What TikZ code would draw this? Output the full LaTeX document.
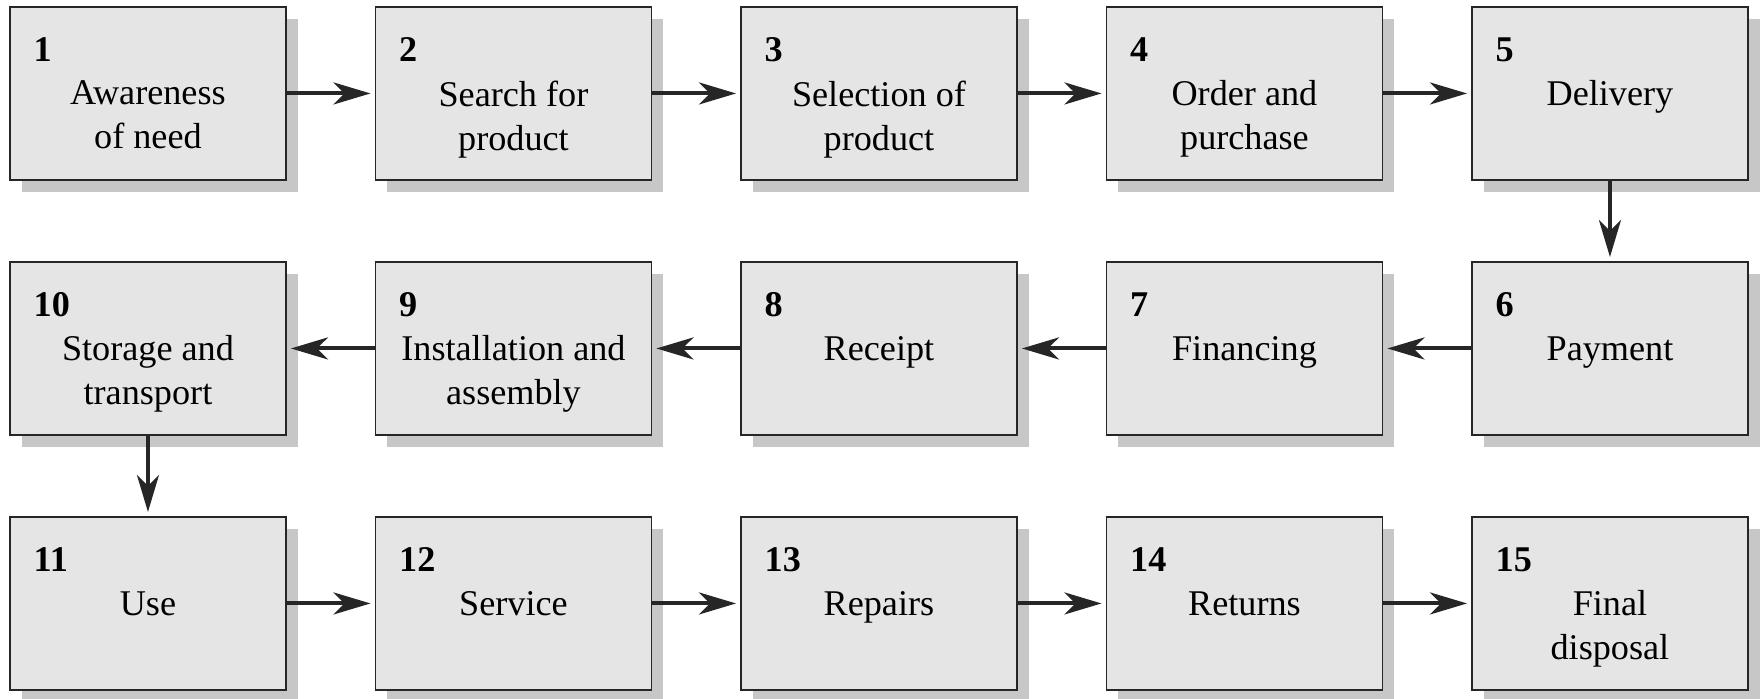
\documentclass[tikz,border=0pt]{standalone}
\usepackage{fontspec}
\setmainfont{Liberation Serif}
\usetikzlibrary{arrows.meta,calc,shadows}

\begin{document}
\fontsize{10.3}{12.5}\selectfont
\begin{tikzpicture}[x=0.1mm, y=-0.1mm,
    stage/.style={rectangle, draw=black!85, line width=0.55pt, fill=black!10, minimum width=27.6mm, minimum height=17.3mm, inner sep=0pt, anchor=north west,
        general shadow={shadow xshift=1.2mm, shadow yshift=-1.2mm, fill=black!22}},
    num/.style={anchor=base west, inner sep=0pt, font=\bfseries},
    txt/.style={anchor=north, inner sep=0pt, align=center, execute at begin node={\vphantom{d}}},
    flow/.style={line width=1.15pt, black!85, -{Stealth[length=3.7mm, width=2.2mm, inset=1.1mm]}, shorten >=0.4mm}]

    \useasboundingbox (0,0) rectangle (1764,699);

    % first row
    \node[stage] (b1) at (9,6) {}; \node[num] (n1) at ($(b1.north west)+(24,56)$) {1}; \node[txt] (t1) at ($(b1.north)+(0,74)$) {Awareness\\of need};
    \node[stage] (b2) at (374.5,6) {}; \node[num] (n2) at ($(b2.north west)+(24,56)$) {2}; \node[txt] (t2) at ($(b2.north)+(0,74)$) {Search for\\product};
    \node[stage] (b3) at (740,6) {}; \node[num] (n3) at ($(b3.north west)+(24,56)$) {3}; \node[txt] (t3) at ($(b3.north)+(0,74)$) {Selection of\\product};
    \node[stage] (b4) at (1105.5,6) {}; \node[num] (n4) at ($(b4.north west)+(24,56)$) {4}; \node[txt] (t4) at ($(b4.north)+(0,74)$) {Order and\\purchase};
    \node[stage] (b5) at (1471,6) {}; \node[num] (n5) at ($(b5.north west)+(24,56)$) {5}; \node[txt] (t5) at ($(b5.north)+(0,74)$) {Delivery};

    % second row, right to left
    \node[stage] (b6) at (1471,261) {}; \node[num] (n6) at ($(b6.north west)+(24,56)$) {6}; \node[txt] (t6) at ($(b6.north)+(0,74)$) {Payment};
    \node[stage] (b7) at (1105.5,261) {}; \node[num] (n7) at ($(b7.north west)+(24,56)$) {7}; \node[txt] (t7) at ($(b7.north)+(0,74)$) {Financing};
    \node[stage] (b8) at (740,261) {}; \node[num] (n8) at ($(b8.north west)+(24,56)$) {8}; \node[txt] (t8) at ($(b8.north)+(0,74)$) {Receipt};
    \node[stage] (b9) at (374.5,261) {}; \node[num] (n9) at ($(b9.north west)+(24,56)$) {9}; \node[txt] (t9) at ($(b9.north)+(0,74)$) {Installation and\\assembly};
    \node[stage] (b10) at (9,261) {}; \node[num] (n10) at ($(b10.north west)+(24,56)$) {10}; \node[txt] (t10) at ($(b10.north)+(0,74)$) {Storage and\\transport};

    % third row
    \node[stage] (b11) at (9,516) {}; \node[num] (n11) at ($(b11.north west)+(24,56)$) {11}; \node[txt] (t11) at ($(b11.north)+(0,74)$) {Use};
    \node[stage] (b12) at (374.5,516) {}; \node[num] (n12) at ($(b12.north west)+(24,56)$) {12}; \node[txt] (t12) at ($(b12.north)+(0,74)$) {Service};
    \node[stage] (b13) at (740,516) {}; \node[num] (n13) at ($(b13.north west)+(24,56)$) {13}; \node[txt] (t13) at ($(b13.north)+(0,74)$) {Repairs};
    \node[stage] (b14) at (1105.5,516) {}; \node[num] (n14) at ($(b14.north west)+(24,56)$) {14}; \node[txt] (t14) at ($(b14.north)+(0,74)$) {Returns};
    \node[stage] (b15) at (1471,516) {}; \node[num] (n15) at ($(b15.north west)+(24,56)$) {15}; \node[txt] (t15) at ($(b15.north)+(0,74)$) {Final\\disposal};

    \draw[flow] (b1) -- (b2);
    \draw[flow] (b2) -- (b3);
    \draw[flow] (b3) -- (b4);
    \draw[flow] (b4) -- (b5);
    \draw[flow] (b5) -- (b6);
    \draw[flow] (b6) -- (b7);
    \draw[flow] (b7) -- (b8);
    \draw[flow] (b8) -- (b9);
    \draw[flow] (b9) -- (b10);
    \draw[flow] (b10) -- (b11);
    \draw[flow] (b11) -- (b12);
    \draw[flow] (b12) -- (b13);
    \draw[flow] (b13) -- (b14);
    \draw[flow] (b14) -- (b15);

\end{tikzpicture}
\end{document}
